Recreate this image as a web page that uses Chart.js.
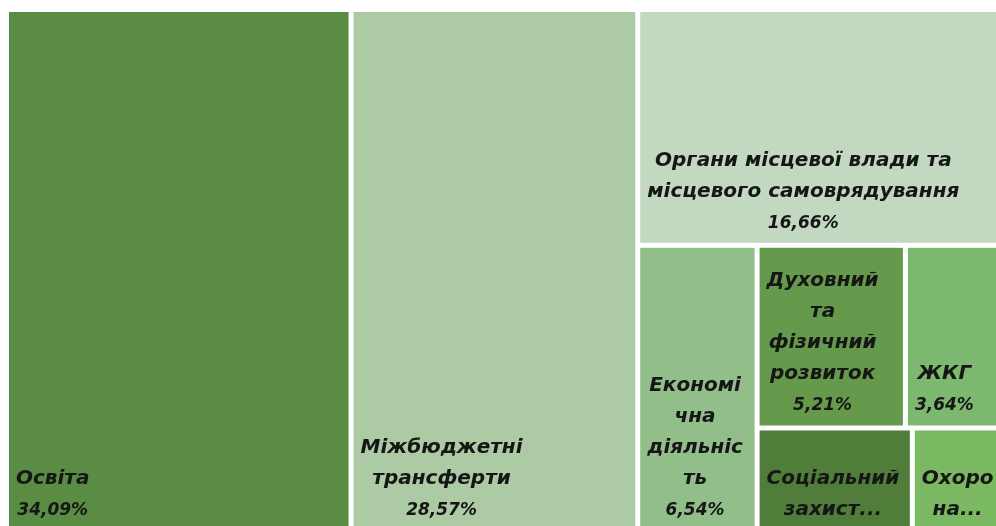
<!DOCTYPE html>
<html>
<head>
<meta charset="utf-8">
<script src="https://cdn.jsdelivr.net/npm/chart.js@4.4.1/dist/chart.umd.min.js"></script>
<style>
  body { margin: 0; background: #fff; }
  #wrap { width: 996px; height: 526px; position: relative; }
</style>
</head>
<body>
<div id="wrap"><canvas id="myChart"></canvas></div>
<script>
const categories = [
    'Освіта',
    'Міжбюджетні трансферти',
    'Органи місцевої влади та місцевого самоврядування',
    'Економічна діяльність',
    'Духовний та фізичний розвиток',
    'ЖКГ',
    'Соціальний захист',
    "Охорона здоров'я"
];

const shares = [34.09, 28.57, 16.66, 6.54, 5.21, 3.64, 3.05, 1.90];

const colors = [
    'rgb(91, 140, 67)',
    'rgb(172, 203, 165)',
    'rgb(194, 216, 193)',
    'rgb(146, 191, 137)',
    'rgb(101, 153, 76)',
    'rgb(124, 184, 112)',
    'rgb(80, 126, 58)',
    'rgb(122, 184, 98)'
];

// how the cells are nested: 'h' splits across, 'v' splits down
const layoutTree = {dir: 'h', items: [0, 1, {dir: 'v', items: [2, {dir: 'h', items: [3,
    {dir: 'v', items: [{dir: 'h', items: [4, 5]}, {dir: 'h', items: [6, 7]}]}]}]}]};

function sumNode(n) {
    if (typeof n === 'number') return shares[n];
    return n.items.reduce((s, it) => s + sumNode(it), 0);
}

function place(node, x0, x1, y0, y1, out) {
    if (typeof node === 'number') {
        out.push({i: node, x0: x0, x1: x1, y0: y0, y1: y1});
        return;
    }
    const total = sumNode(node);
    let pos = node.dir === 'h' ? x0 : y0;
    const span = node.dir === 'h' ? x1 - x0 : y1 - y0;
    node.items.forEach(it => {
        const len = span * sumNode(it) / total;
        if (node.dir === 'h') place(it, pos, pos + len, y0, y1, out);
        else place(it, x0, x1, pos, pos + len, out);
        pos += len;
    });
}

function wrapText(ctx, text, maxW) {
    const lines = [];
    let cur = '';
    text.split(' ').forEach(word => {
        const test = cur ? cur + ' ' + word : word;
        if (ctx.measureText(test).width <= maxW) { cur = test; return; }
        if (cur) { lines.push(cur); cur = ''; }
        while (ctx.measureText(word).width > maxW && word.length > 1) {
            let n = word.length;
            while (n > 1 && ctx.measureText(word.slice(0, n)).width > maxW) n--;
            lines.push(word.slice(0, n));
            word = word.slice(n);
        }
        cur = word;
    });
    if (cur) lines.push(cur);
    return lines;
}

const nameFont = 'italic bold 20px "DejaVu Sans"';
const valueFont = 'italic bold 17px "DejaVu Sans"';

const treemapPlugin = {
    id: 'treemap',
    beforeDatasetsDraw(chart) {
        const ctx = chart.ctx;
        const xs = chart.scales.x, ys = chart.scales.y;
        const cells = [];
        place(layoutTree, 0, 1, 0, 1, cells);
        const gap = 2.5, lineH = 31, padX = 7, padY = 8, padBottom = 15;
        ctx.save();
        cells.forEach(c => {
            let left = xs.getPixelForValue(c.x0), right = xs.getPixelForValue(c.x1);
            let top = ys.getPixelForValue(c.y0), bottom = ys.getPixelForValue(c.y1);
            if (c.x0 > 1e-6) left += gap;
            if (c.x1 < 1 - 1e-6) right -= gap;
            if (c.y0 > 1e-6) top += gap;
            if (c.y1 < 1 - 1e-6) bottom -= gap;
            const w = right - left, h = bottom - top;
            ctx.fillStyle = colors[c.i];
            ctx.fillRect(left, top, w, h);

            ctx.font = nameFont;
            const lines = wrapText(ctx, categories[c.i], w - 2 * padX).map(t => ({t: t, f: nameFont}));
            lines.push({t: shares[c.i].toFixed(2).replace('.', ',') + '%', f: valueFont});
            const maxLines = Math.max(1, Math.floor((h - 2 * padY) / lineH));
            let shown = lines;
            if (lines.length > maxLines) {
                shown = lines.slice(0, maxLines);
                shown[maxLines - 1] = {t: shown[maxLines - 1].t + '...', f: shown[maxLines - 1].f};
            }
            const blockW = Math.max(...shown.map(l => { ctx.font = l.f; return ctx.measureText(l.t).width; }));
            const cx = left + padX + blockW / 2;
            ctx.fillStyle = '#161616';
            ctx.textAlign = 'center';
            ctx.textBaseline = 'alphabetic';
            shown.forEach((l, k) => {
                ctx.font = l.f;
                ctx.fillText(l.t, cx, bottom - padBottom - (shown.length - 1 - k) * lineH);
            });
        });
        ctx.restore();
    }
};

const config = {
    type: 'scatter',
    data: {datasets: []},
    options: {
        responsive: true,
        maintainAspectRatio: false,
        animation: false,
        layout: {padding: {left: 9, top: 12, right: 0, bottom: 0}},
        plugins: {legend: {display: false}, tooltip: {enabled: false}},
        scales: {
            // the treemap runs a little past the right and bottom edge of the picture
            x: {type: 'linear', min: 0, max: 0.987, display: false},
            y: {type: 'linear', min: 0, max: 0.992, reverse: true, display: false}
        }
    },
    plugins: [treemapPlugin]
};

const myChart = new Chart(document.getElementById('myChart'), config);
</script>
</body>
</html>
